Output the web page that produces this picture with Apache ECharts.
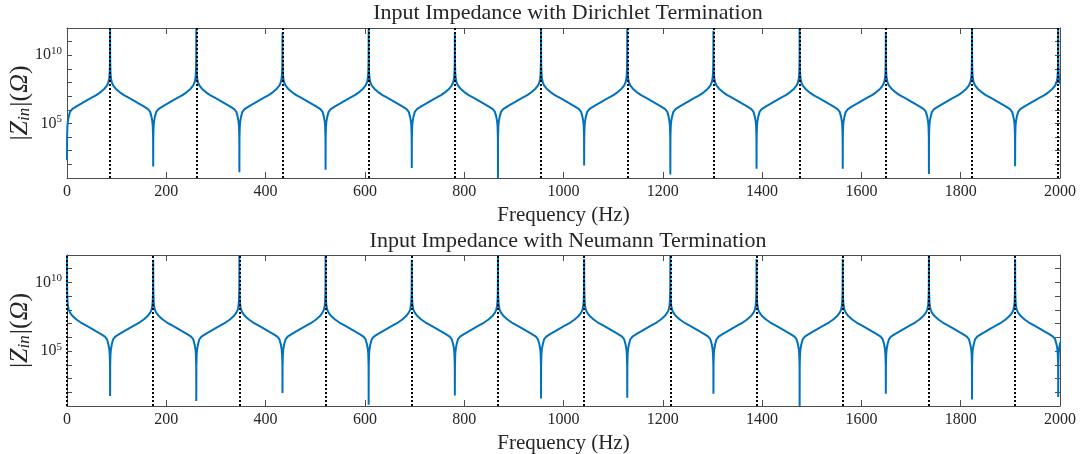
<!DOCTYPE html>
<html>
<head>
<meta charset="utf-8">
<script src="https://cdn.jsdelivr.net/npm/echarts@6/dist/echarts.min.js"></script>
<style>
html,body{margin:0;padding:0;background:#fff;}
#chart{width:1085px;height:454px;}
</style>
</head>
<body>
<div id="chart"></div>
<script>
// ---- data ----
var xTicks = [0, 200, 400, 600, 800, 1000, 1200, 1400, 1600, 1800, 2000];
var yLabelExponents = [5, 10];

// Dirichlet termination: antiresonances (dips) and resonances (poles), Hz
var dirZeroFreq = [0, 173.6, 347.2, 520.8, 694.4, 868, 1041.6, 1215.2, 1388.8, 1562.4, 1736, 1909.6];
var dirZeroDepth = [2.3, 1.84, 1.42, 1.6, 1.74, 1.0, 1.91, 1.25, 1.67, 1.67, 1.3, 1.86]; // log10 |Z|
var dirPoleFreq = [86.8, 260.4, 434, 607.6, 781.2, 954.8, 1128.4, 1302, 1475.6, 1649.2, 1822.8, 1996.4];
var dirPoleHeight = [11.85, 12, 11.65, 12, 11.65, 12, 12, 11.8, 12, 11.7, 12, 12];

// Neumann termination
var neuPoleFreq = [0, 173.6, 347.2, 520.8, 694.4, 868, 1041.6, 1215.2, 1388.8, 1562.4, 1736, 1909.6];
var neuPoleHeight = [12, 11.65, 12, 12, 11.65, 12, 11.7, 12, 11.7, 11.7, 12, 11.7];
var neuZeroFreq = [86.8, 260.4, 434, 607.6, 781.2, 954.8, 1128.4, 1302, 1475.6, 1649.2, 1822.8, 1996.4];
var neuZeroDepth = [1.72, 1.36, 1.94, 1.1, 1.77, 1.55, 1.6, 1.9, 1.0, 1.9, 1.48, 1.65];

// branch profile: fraction of the way from a dip (0) to a pole (1), log10 |Z|
var branchT = [0.002, 0.005, 0.01, 0.02, 0.04, 0.07, 0.12, 0.22, 0.33, 0.45, 0.55, 0.68, 0.78, 0.87, 0.93, 0.96, 0.98, 0.99, 0.995, 0.998];
var branchV = [3.9, 4.3, 4.8, 5.15, 5.5, 5.85, 6.05, 6.25, 6.45, 6.68, 6.85, 7.08, 7.3, 7.55, 7.8, 8.0, 8.3, 8.7, 9.2, 9.8];

function buildSeries(zf, zd, pf, ph) {
  var nodes = [];
  zf.forEach(function (f, i) { nodes.push({f: f, zero: true, v: zd[i]}); });
  pf.forEach(function (f, i) { nodes.push({f: f, zero: false, v: ph[i]}); });
  nodes.sort(function (a, b) { return a.f - b.f; });
  var last = nodes[nodes.length - 1], prev = nodes[nodes.length - 2];
  nodes.push({f: last.f + (last.f - prev.f), zero: !last.zero, v: null, virt: true});
  var data = [];
  for (var i = 0; i < nodes.length; i++) {
    var a = nodes[i];
    if (a.v !== null) data.push([a.f, Math.pow(10, a.v)]);
    if (i === nodes.length - 1) break;
    var b = nodes[i + 1];
    var k, t;
    if (a.zero) {
      for (k = 0; k < branchT.length; k++) {
        t = branchT[k];
        data.push([a.f + t * (b.f - a.f), Math.pow(10, branchV[k])]);
      }
    } else {
      for (k = branchT.length - 1; k >= 0; k--) {
        t = branchT[k];
        data.push([b.f - t * (b.f - a.f), Math.pow(10, branchV[k])]);
      }
    }
  }
  return data;
}

var dirData = buildSeries(dirZeroFreq, dirZeroDepth, dirPoleFreq, dirPoleHeight);
var neuData = buildSeries(neuZeroFreq, neuZeroDepth, neuPoleFreq, neuPoleHeight);

var FONT = 'Liberation Serif';
var AXC = '#4d4d4d';
var TXT = '#262626';

function yLabel(v) {
  var e = Math.round(Math.log10(v));
  if (yLabelExponents.indexOf(e) >= 0 && Math.abs(Math.log10(v) - e) < 1e-6) return '10{s|' + e + '}';
  return '';
}

function xAxisPair(gi) {
  return [{
    gridIndex: gi, type: 'value', min: 0, max: 2000, interval: 200, position: 'bottom',
    name: 'Frequency (Hz)', nameLocation: 'middle', nameGap: 27, nameMoveOverlap: false,
    nameTextStyle: {fontFamily: FONT, fontSize: 21, color: TXT},
    axisLine: {show: true, onZero: false, lineStyle: {color: AXC, width: 1}},
    axisTick: {show: true, inside: true, length: 6, lineStyle: {color: AXC}},
    axisLabel: {fontFamily: FONT, fontSize: 16, color: TXT, margin: 6,
      formatter: function (v) { return xTicks.indexOf(v) >= 0 ? String(v) : ''; }},
    splitLine: {show: false}
  }, {
    gridIndex: gi, type: 'value', min: 0, max: 2000, interval: 200, position: 'top',
    axisLine: {show: true, onZero: false, lineStyle: {color: AXC, width: 1}},
    axisTick: {show: true, inside: true, length: 6, lineStyle: {color: AXC}},
    axisLabel: {show: false}, splitLine: {show: false}
  }];
}

function yAxisPair(gi) {
  return [{
    gridIndex: gi, type: 'log', logBase: 10, min: 10, max: 1e12, interval: 1, position: 'left',
    name: '{b||}{z|Z}{s|in}{b||(}{z|\u03A9}{b|)}', nameLocation: 'middle', nameGap: 34, nameMoveOverlap: false,
    nameTextStyle: {fontFamily: FONT, fontSize: 26, color: TXT,
      rich: {
        b: {fontFamily: FONT, fontSize: 26, color: TXT},
        z: {fontFamily: FONT, fontSize: 26, fontStyle: 'italic', color: TXT},
        s: {fontFamily: FONT, fontSize: 17, fontStyle: 'italic', color: TXT, verticalAlign: 'bottom', padding: [9, 1, 0, 0]}
      }},
    axisLine: {show: true, onZero: false, lineStyle: {color: AXC, width: 1}},
    axisTick: {show: true, inside: true, length: 5, lineStyle: {color: AXC}},
    axisLabel: {fontFamily: FONT, fontSize: 16, color: TXT, margin: 5, formatter: yLabel,
      rich: {s: {fontFamily: FONT, fontSize: 11, color: TXT, verticalAlign: 'top', padding: [0, 0, 8, 0]}}},
    splitLine: {show: false}
  }, {
    gridIndex: gi, type: 'log', logBase: 10, min: 10, max: 1e12, interval: 1, position: 'right',
    axisLine: {show: true, onZero: false, lineStyle: {color: AXC, width: 1}},
    axisTick: {show: true, inside: true, length: 5, lineStyle: {color: AXC}},
    axisLabel: {show: false}, splitLine: {show: false}
  }];
}

function curve(gi, data) {
  return {
    type: 'line', xAxisIndex: gi * 2, yAxisIndex: gi * 2, data: data,
    showSymbol: false, symbol: 'none', clip: true, animation: false, z: 2,
    lineStyle: {color: '#0072BD', width: 2}
  };
}
function dotted(gi, freqs) {
  return {
    type: 'line', xAxisIndex: gi * 2, yAxisIndex: gi * 2, data: [], z: 5, animation: false,
    markLine: {
      silent: true, symbol: ['none', 'none'], animation: false, label: {show: false},
      lineStyle: {color: '#000', type: [2, 2], width: 2},
      data: freqs.map(function (f) { return {xAxis: f}; })
    }
  };
}

var chart = echarts.init(document.getElementById('chart'), null, {renderer: 'canvas'});
chart.setOption({
  animation: false,
  backgroundColor: '#fff',
  title: [
    {text: 'Input Impedance with Dirichlet Termination', left: 563, top: -3, textAlign: 'center',
      textStyle: {fontFamily: FONT, fontSize: 22, fontWeight: 'normal', color: TXT}},
    {text: 'Input Impedance with Neumann Termination', left: 563, top: 225, textAlign: 'center',
      textStyle: {fontFamily: FONT, fontSize: 22, fontWeight: 'normal', color: TXT}}
  ],
  grid: [
    {left: 67, right: 25, top: 28, height: 150, containLabel: false, outerBoundsMode: 'none'},
    {left: 67, right: 25, top: 255, height: 151, containLabel: false, outerBoundsMode: 'none'}
  ],
  xAxis: xAxisPair(0).concat(xAxisPair(1)),
  yAxis: yAxisPair(0).concat(yAxisPair(1)),
  series: [
    curve(0, dirData), dotted(0, dirPoleFreq),
    curve(1, neuData), dotted(1, neuPoleFreq)
  ]
});
</script>
</body>
</html>
